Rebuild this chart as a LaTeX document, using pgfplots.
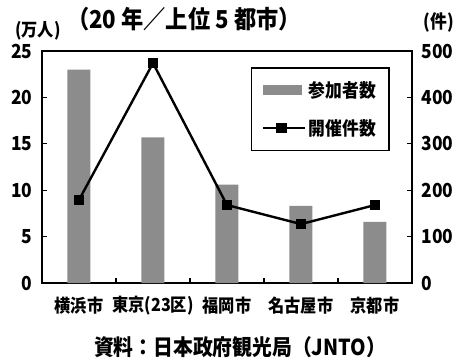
\documentclass[border=0pt]{standalone}
\usepackage{pgfplots}
\pgfplotsset{compat=1.18}
\usepackage{fontspec}
\setmainfont{Noto Sans CJK JP}[FakeStretch=0.9]
\definecolor{barfill}{gray}{0.55}
\begin{document}
\begin{tikzpicture}[x=1pt,y=1pt]
\useasboundingbox (-31.5,-59.25) rectangle (309.75,212.25);
\begin{axis}[
  at={(0,0)}, anchor=south west,
  scale only axis, width=277.5pt, height=174pt,
  xmin=-0.5, xmax=4.5, ymin=0, ymax=25,
  xtick={0,1,2,3,4},
  xticklabels={横浜市,東京(23区),福岡市,名古屋市,京都市},
  minor xtick={0.5,1.5,2.5,3.5},
  major x tick style={draw=none},
  minor tick length=3.5pt,
  major tick length=3.5pt,
  ytick={0,5,10,15,20,25},
  ytick pos=left, xtick pos=bottom,
  tick align=inside,
  tick style={line width=1pt, black},
  axis line style={line width=1.2pt},
  /pgf/number format/assume math mode=true,
  yticklabel style={font=\bfseries\fontsize{14.5}{14.5}\selectfont, inner sep=0pt, xshift=-7pt},
  xticklabel style={font=\bfseries\fontsize{13.5}{13.5}\selectfont, inner sep=0pt, yshift=-10pt},
]
\addplot[ybar, bar width=17.25pt, fill=barfill, draw=none] coordinates {(0,23.0) (1,15.7) (2,10.6) (3,8.3) (4,6.6)};
\end{axis}
\begin{axis}[
  at={(0,0)}, anchor=south west,
  scale only axis, width=277.5pt, height=174pt,
  xmin=-0.5, xmax=4.5, ymin=0, ymax=500,
  hide x axis,
  axis y line*=right,
  ytick={0,100,200,300,400,500},
  tick align=inside,
  major tick length=3.5pt,
  tick style={line width=1pt, black},
  axis line style={line width=1.2pt},
  /pgf/number format/assume math mode=true,
  yticklabel style={font=\bfseries\fontsize{14.5}{14.5}\selectfont, inner sep=0pt, xshift=7pt},
  legend style={at={(0.9405,0.931)}, anchor=north east, draw=black, line width=1.2pt,
    font=\bfseries\fontsize{14}{14}\selectfont, inner xsep=8pt, inner ysep=8pt, row sep=11pt},
  legend cell align=left,
]
\addlegendimage{legend image code/.code={\fill[barfill] (0pt,-3pt) rectangle (28.5pt,3pt);}}
\addlegendentry{参加者数}
\addplot[black, line width=1.8pt, mark=square*, mark size=3pt,
  legend image code/.code={\draw[line width=1.8pt] (0pt,0pt) -- (31pt,0pt); \fill (10.5pt,-3pt) rectangle (16.5pt,3pt);}]
  coordinates {(0,179) (1,474) (2,168) (3,127) (4,168)};
\addlegendentry{開催件数}
\end{axis}
\node[font=\bfseries\fontsize{13.5}{13.5}\selectfont] at (-3.0,189.5) {(万人)};
\node[font=\bfseries\fontsize{18.5}{18.5}\selectfont, anchor=west, inner sep=0pt] at (18.75,198) {（20 年／上位 5 都市）};
\node[font=\bfseries\fontsize{14}{14}\selectfont] at (297.75,195.75) {(件)};
\node[font=\bfseries\fontsize{16.5}{16.5}\selectfont] at (148.5,-48) {資料：日本政府観光局（JNTO）};
\end{tikzpicture}
\end{document}
